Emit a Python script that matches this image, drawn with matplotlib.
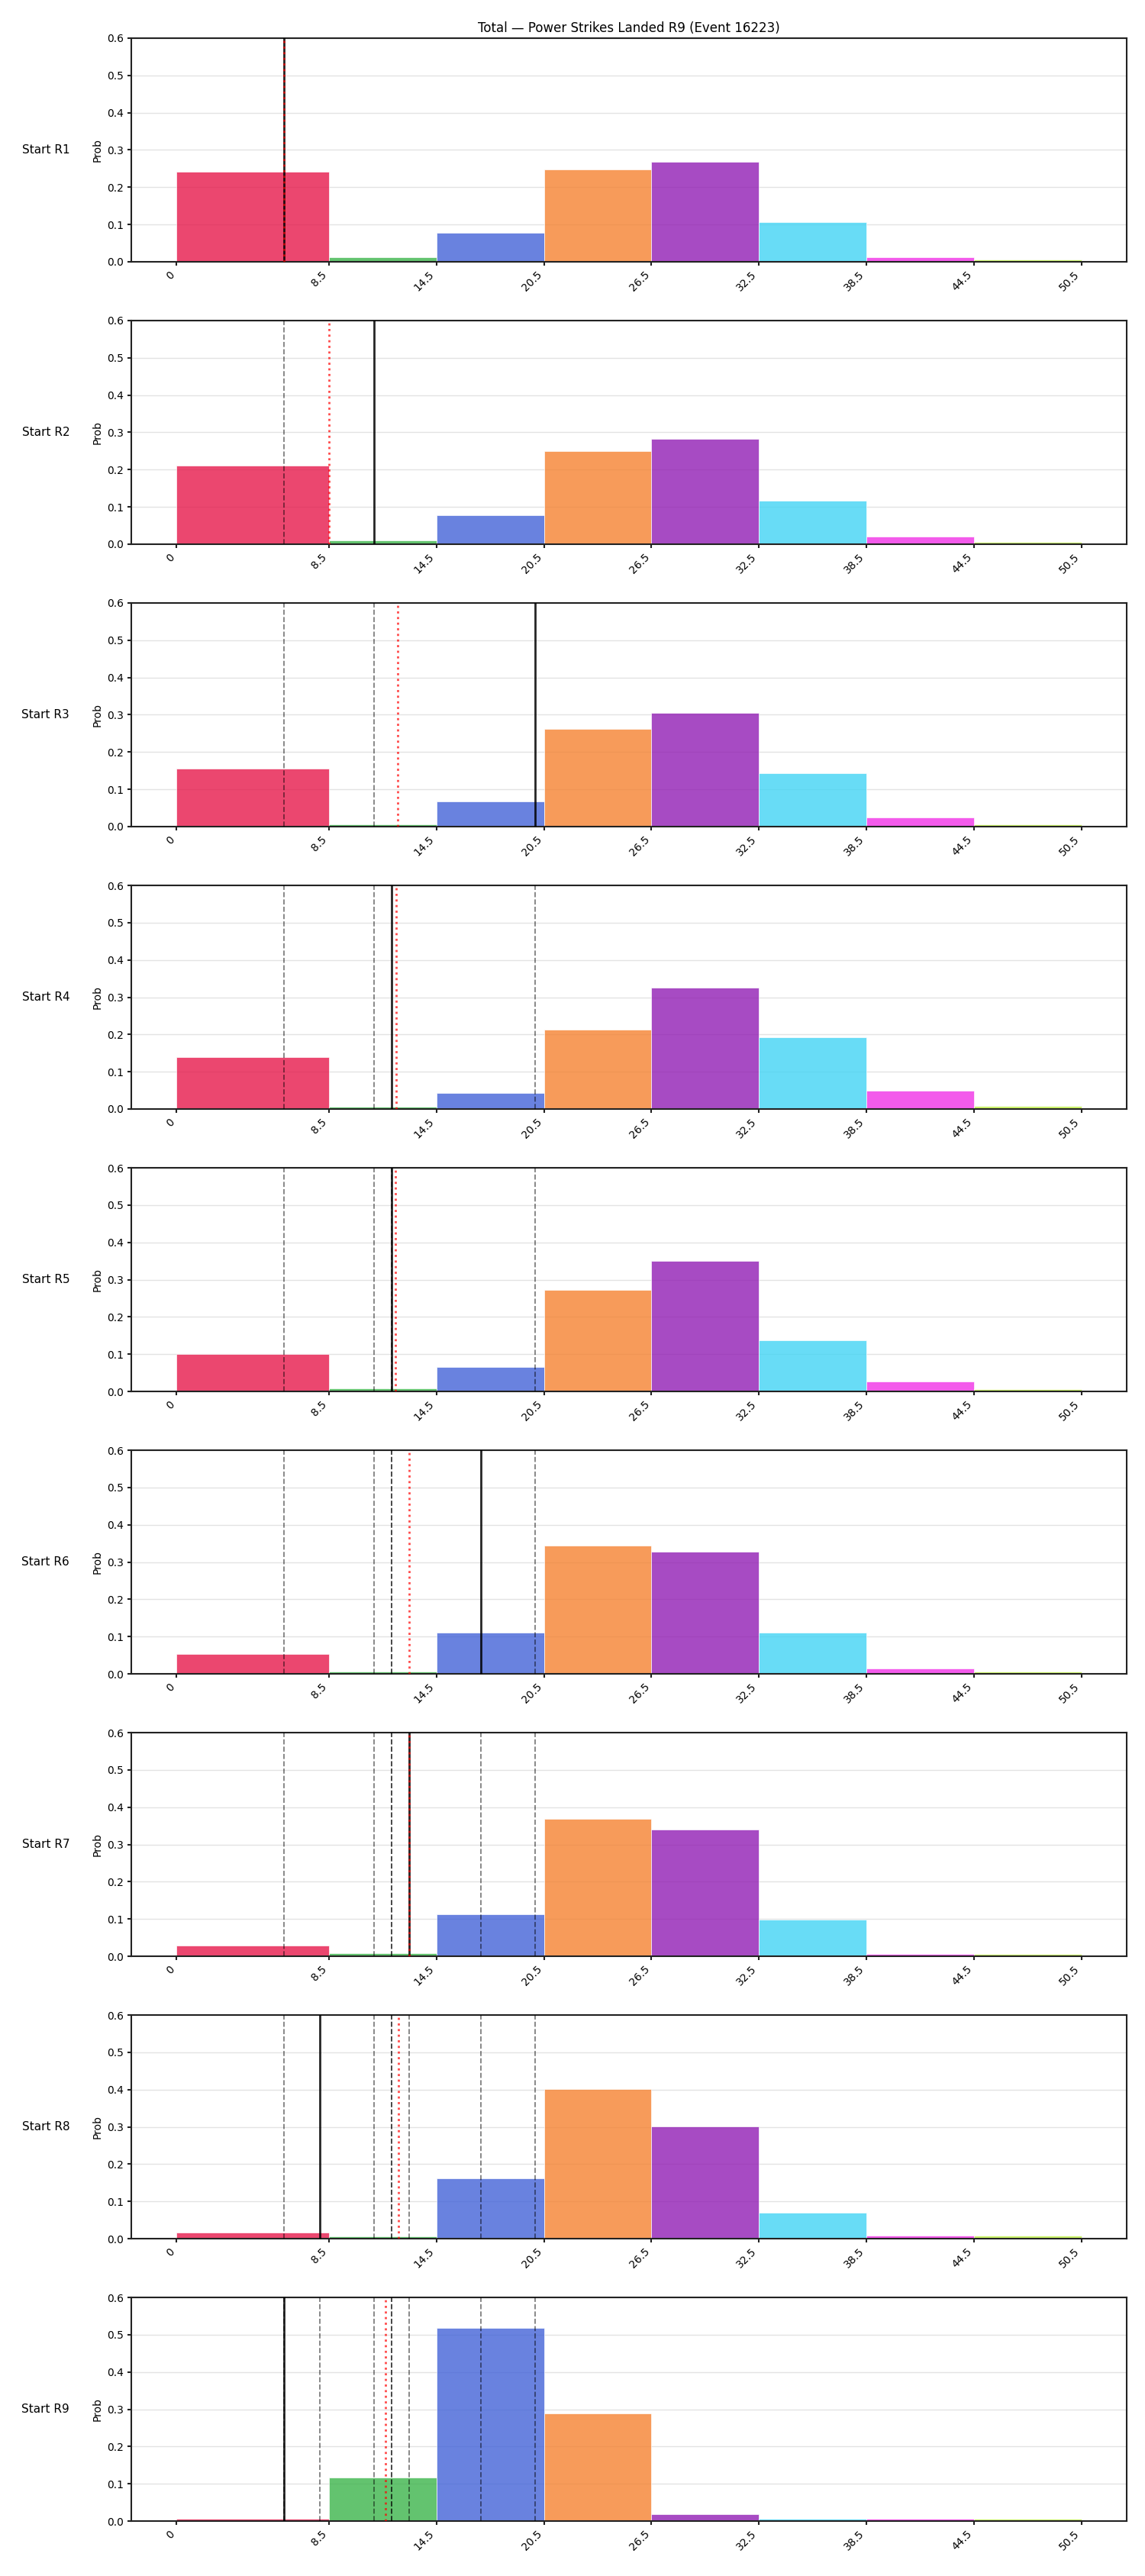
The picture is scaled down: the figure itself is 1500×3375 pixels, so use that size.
import numpy as np
import matplotlib
matplotlib.use("Agg")
import matplotlib.pyplot as plt

# bin edges and tick labels
edges = [0, 8.5, 14.5, 20.5, 26.5, 32.5, 38.5, 44.5, 50.5]
tick_labels = ["0", "8.5", "14.5", "20.5", "26.5", "32.5", "38.5", "44.5", "50.5"]
bin_colors = ["#e6194b", "#3cb44b", "#4363d8", "#f58231",
              "#911eb4", "#42d4f4", "#f032e6", "#bfef45"]

rounds = ["Start R1", "Start R2", "Start R3", "Start R4", "Start R5",
          "Start R6", "Start R7", "Start R8", "Start R9"]

# probability per bin, one value per round
p_0_8 = [0.242, 0.211, 0.155, 0.140, 0.101, 0.0525, 0.029, 0.0157, 0.0068]
p_9_14 = [0.0116, 0.011, 0.0068, 0.0068, 0.0089, 0.0068, 0.0089, 0.0068, 0.117]
p_15_20 = [0.077, 0.077, 0.067, 0.042, 0.065, 0.110, 0.112, 0.162, 0.518]
p_21_26 = [0.247, 0.249, 0.263, 0.213, 0.273, 0.344, 0.369, 0.402, 0.289]
p_27_32 = [0.269, 0.282, 0.306, 0.325, 0.350, 0.328, 0.340, 0.301, 0.019]
p_33_38 = [0.107, 0.117, 0.144, 0.193, 0.138, 0.110, 0.098, 0.070, 0.006]
p_39_44 = [0.013, 0.021, 0.024, 0.050, 0.027, 0.014, 0.007, 0.009, 0.006]
p_45_50 = [0.006, 0.007, 0.007, 0.0086, 0.007, 0.007, 0.007, 0.009, 0.006]

# actual strikes per round (black line) and running average (red dotted)
actual = [6, 11, 20, 12, 12, 17, 13, 8, 6]
running_avg = [6.0, 8.5, 12.33, 12.25, 12.2, 13.0, 13.0, 12.38, 11.67]

probs = np.array([p_0_8, p_9_14, p_15_20, p_21_26,
                  p_27_32, p_33_38, p_39_44, p_45_50]).T
widths = np.diff(edges)

fig, axes = plt.subplots(len(rounds), 1, figsize=(15, 33.75), dpi=100)
fig.subplots_adjust(left=0.1147, right=0.984, top=0.9852, bottom=0.0213, hspace=0.263)

for i, ax in enumerate(axes):
    ax.bar(edges[:-1], probs[i], width=widths, align="edge", color=bin_colors,
           alpha=0.8, edgecolor="white", linewidth=0.6, zorder=2)

    # previous rounds
    for v in actual[:i]:
        ax.axvline(v, color="black", linestyle="--", linewidth=1.3, alpha=0.5, zorder=3)
    ax.axvline(actual[i], color="black", linewidth=2, alpha=0.85, zorder=4)
    ax.axvline(running_avg[i], color="red", linestyle=":", linewidth=2, alpha=0.7, zorder=5)

    ax.set_ylim(0, 0.6)
    ax.set_yticks(np.arange(0, 0.61, 0.1))
    ax.set_xticks(edges)
    ax.set_xticklabels(tick_labels, rotation=45, ha="right", fontsize=10)
    ax.grid(axis="y", color="#e3e3e3", linewidth=1, zorder=0)
    ax.set_axisbelow(True)
    ax.set_ylabel("Prob")
    ax.text(-0.062, 0.5, rounds[i], transform=ax.transAxes, ha="right",
            va="center", fontsize=11)
    for s in ax.spines.values():
        s.set_linewidth(1.5)
        s.set_color("#222222")
    ax.tick_params(width=1.5, color="#222222")

axes[0].set_title("Total \u2014 Power Strikes Landed R9 (Event 16223)", fontsize=12)

fig.savefig("out.png", dpi=100)
